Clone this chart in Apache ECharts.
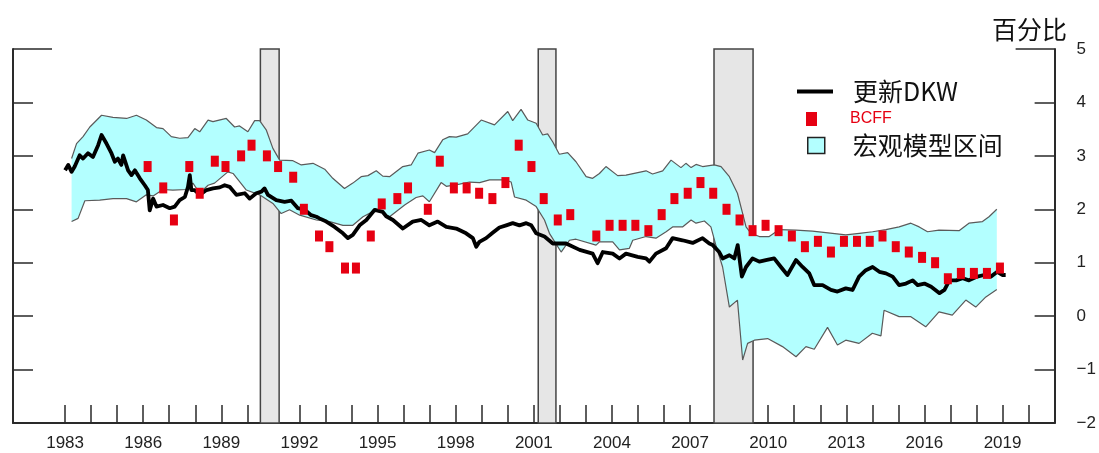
<!DOCTYPE html>
<html><head><meta charset="utf-8">
<script src="https://cdn.jsdelivr.net/npm/echarts@6/dist/echarts.min.js"></script>
<style>html,body{margin:0;padding:0;background:#fff}#c{width:1099px;height:453px}</style>
</head><body><div id="c"></div>
<script>
// ---------- data ----------
const xTickYears = [1983,1984,1985,1986,1987,1988,1989,1990,1991,1992,1993,1994,1995,1996,1997,1998,1999,2000,2001,2002,2003,2004,2005,2006,2007,2008,2009,2010,2011,2012,2013,2014,2015,2016,2017,2018,2019,2020];
const xLabelYears = [1983,1986,1989,1992,1995,1998,2001,2004,2007,2010,2013,2016,2019];
const yTickValues = [-2,-1,0,1,2,3,4,5];
const yTickLabels = ['\u22122','\u22121','0','1','2','3','4','5'];

const recessionStart = [1990.5, 2001.17, 2007.92];
const recessionEnd   = [1991.22, 2001.85, 2009.42];

const dkwYears = [1983.00,1983.12,1983.25,1983.37,1983.56,1983.69,1983.88,1984.07,1984.27,1984.40,1984.59,1984.78,1984.91,1985.03,1985.16,1985.23,1985.42,1985.55,1985.68,1985.87,1986.06,1986.18,1986.25,1986.38,1986.51,1986.76,1987.02,1987.21,1987.40,1987.60,1987.72,1987.79,1987.85,1987.98,1988.17,1988.43,1988.68,1988.94,1989.13,1989.32,1989.58,1989.90,1990.09,1990.34,1990.54,1990.66,1990.79,1991.11,1991.43,1991.69,1991.94,1992.20,1992.45,1992.65,1992.77,1993.03,1993.35,1993.67,1993.86,1994.05,1994.31,1994.57,1994.89,1995.20,1995.33,1995.59,1995.97,1996.35,1996.68,1996.99,1997.31,1997.64,1998.02,1998.40,1998.66,1998.79,1998.91,1999.17,1999.42,1999.68,1999.94,2000.19,2000.45,2000.71,2000.90,2001.09,2001.41,2001.73,2002.24,2002.76,2003.26,2003.45,2003.65,2004.03,2004.29,2004.54,2004.99,2005.31,2005.44,2005.69,2006.08,2006.33,2006.71,2007.10,2007.48,2007.74,2007.87,2008.12,2008.25,2008.51,2008.70,2008.83,2008.89,2008.99,2009.15,2009.40,2009.66,2009.91,2010.23,2010.49,2010.74,2011.07,2011.32,2011.58,2011.77,2012.09,2012.41,2012.66,2012.98,2013.24,2013.49,2013.75,2014.01,2014.27,2014.52,2014.78,2015.03,2015.29,2015.55,2015.74,2016.00,2016.26,2016.58,2016.77,2016.96,2017.22,2017.47,2017.71,2018.03,2018.29,2018.55,2018.80,2018.99,2019.12];
const dkwValues = [2.73,2.83,2.70,2.80,3.01,2.95,3.05,2.98,3.20,3.39,3.23,3.05,2.89,2.95,2.83,3.01,2.73,2.64,2.73,2.58,2.45,2.36,1.98,2.20,2.05,2.08,2.02,2.05,2.17,2.23,2.42,2.64,2.36,2.36,2.27,2.36,2.39,2.41,2.45,2.42,2.27,2.30,2.20,2.30,2.33,2.39,2.27,2.17,2.14,2.16,2.02,1.99,1.89,1.86,1.83,1.77,1.67,1.55,1.46,1.52,1.70,1.80,1.99,1.95,1.87,1.80,1.64,1.77,1.80,1.70,1.77,1.67,1.64,1.55,1.46,1.30,1.39,1.46,1.56,1.66,1.70,1.74,1.70,1.74,1.70,1.55,1.49,1.36,1.36,1.24,1.17,0.99,1.20,1.17,1.08,1.17,1.11,1.08,1.02,1.17,1.27,1.46,1.42,1.37,1.46,1.36,1.33,1.20,1.08,1.14,1.08,1.33,1.11,0.74,0.92,1.08,1.02,1.05,1.08,0.92,0.77,1.05,0.92,0.80,0.58,0.58,0.49,0.46,0.52,0.49,0.74,0.86,0.92,0.83,0.80,0.74,0.58,0.61,0.67,0.58,0.61,0.55,0.43,0.49,0.67,0.67,0.71,0.67,0.74,0.77,0.74,0.83,0.77,0.77];

const bcffYears = [1986.17,1986.77,1987.18,1987.77,1988.17,1988.75,1989.16,1989.76,1990.16,1990.75,1991.18,1991.76,1992.17,1992.75,1993.15,1993.75,1994.17,1994.74,1995.16,1995.76,1996.17,1996.93,1997.39,1997.93,1998.42,1998.90,1999.41,1999.91,2000.42,2000.91,2001.38,2001.92,2002.40,2003.40,2003.91,2004.41,2004.90,2005.40,2005.91,2006.40,2006.91,2007.40,2007.89,2008.40,2008.90,2009.40,2009.90,2010.40,2010.91,2011.41,2011.91,2012.41,2012.91,2013.41,2013.90,2014.39,2014.90,2015.40,2015.91,2016.41,2016.90,2017.40,2017.90,2018.40,2018.90];
const bcffValues = [2.8,2.4,1.8,2.8,2.3,2.9,2.8,3.0,3.2,3.0,2.8,2.6,2.0,1.5,1.3,0.9,0.9,1.5,2.1,2.2,2.4,2.0,2.9,2.4,2.4,2.3,2.2,2.5,3.2,2.8,2.2,1.8,1.9,1.5,1.7,1.7,1.7,1.6,1.9,2.2,2.3,2.5,2.3,2.0,1.8,1.6,1.7,1.6,1.5,1.3,1.4,1.2,1.4,1.4,1.4,1.5,1.3,1.2,1.1,1.0,0.7,0.8,0.8,0.8,0.9];

const bandUpperYears = [1983.25,1983.44,1983.69,1983.95,1984.40,1984.84,1985.36,1985.74,1986.12,1986.51,1986.76,1987.08,1987.40,1987.72,1987.98,1988.17,1988.49,1988.68,1989.19,1989.51,1989.70,1990.02,1990.28,1990.47,1990.73,1990.98,1991.24,1991.75,1992.07,1992.52,1992.97,1993.28,1993.73,1994.05,1994.37,1994.63,1994.95,1995.20,1995.46,1995.97,1996.29,1996.55,1996.99,1997.19,1997.50,1997.76,1998.02,1998.46,1998.98,1999.49,2000.00,2000.19,2000.51,2000.77,2001.09,2001.34,2001.53,2001.73,2001.98,2002.30,2002.62,2003.01,2003.26,2003.52,2003.77,2004.22,2004.54,2005.31,2005.56,2005.95,2006.27,2006.65,2006.84,2007.04,2007.23,2007.48,2007.93,2008.19,2008.51,2008.82,2009.15,2009.34,2009.66,2010.04,2010.43,2011.07,2011.70,2012.47,2012.98,2013.50,2014.01,2014.52,2015.03,2015.48,2015.80,2016.12,2016.56,2017.33,2017.71,2018.23,2018.48,2018.78];
const bandUpperValues = [2.95,3.23,3.36,3.54,3.76,3.72,3.70,3.76,3.67,3.53,3.51,3.36,3.33,3.34,3.51,3.45,3.67,3.64,3.70,3.54,3.56,3.45,3.66,3.66,3.48,3.14,2.92,2.91,2.83,2.86,2.75,2.58,2.39,2.49,2.61,2.63,2.72,2.62,2.61,2.80,2.83,3.05,3.11,3.06,3.30,3.36,3.35,3.41,3.67,3.58,3.83,3.66,3.87,3.67,3.61,3.39,3.41,3.26,3.03,3.06,2.89,2.61,2.58,2.67,2.80,2.63,2.64,2.72,2.66,2.72,2.92,2.78,2.86,2.78,2.84,2.80,2.83,2.80,2.61,2.30,1.67,1.55,1.49,1.49,1.62,1.61,1.59,1.55,1.52,1.55,1.58,1.62,1.67,1.74,1.67,1.58,1.61,1.60,1.74,1.77,1.86,2.00];

const bandLowerYears = [1983.25,1983.50,1983.76,1984.33,1984.84,1985.36,1985.74,1986.12,1986.38,1986.76,1987.14,1987.66,1987.91,1988.17,1988.49,1988.74,1989.25,1989.45,1989.96,1990.47,1990.98,1991.30,1991.62,1992.01,1992.65,1993.16,1993.67,1994.05,1994.44,1994.95,1995.46,1996.04,1996.48,1996.74,1996.99,1997.44,1997.64,1998.15,1998.53,1998.92,1999.30,1999.88,2000.13,2000.26,2000.71,2001.09,2001.41,2001.60,2002.05,2002.37,2002.62,2003.39,2003.52,2004.03,2004.29,2004.67,2004.80,2005.31,2005.69,2006.08,2006.33,2006.71,2007.04,2007.23,2007.55,2007.80,2007.99,2008.25,2008.51,2008.82,2009.02,2009.21,2009.47,2009.98,2010.55,2011.07,2011.45,2011.77,2012.28,2012.66,2012.98,2013.49,2014.00,2014.33,2014.45,2015.03,2015.48,2016.05,2016.56,2017.07,2017.59,2017.97,2018.36,2018.78];
const bandLowerValues = [1.77,1.83,2.16,2.17,2.20,2.20,2.14,2.27,2.25,2.37,2.36,2.37,2.49,2.30,2.45,2.49,2.70,2.67,2.36,2.27,2.11,1.92,1.99,1.89,1.80,1.77,1.70,1.70,1.86,1.99,1.86,2.08,2.22,2.25,2.14,2.50,2.43,2.47,2.51,2.50,2.55,2.55,2.51,2.23,2.17,2.05,1.80,1.55,1.20,1.42,1.44,1.33,1.39,1.39,1.24,1.27,1.42,1.49,1.46,1.58,1.67,1.67,1.80,1.74,1.78,1.67,1.33,0.92,0.17,0.30,-0.82,-0.51,-0.45,-0.42,-0.57,-0.76,-0.57,-0.62,-0.21,-0.54,-0.45,-0.51,-0.32,-0.37,0.11,-0.01,-0.01,-0.20,0.08,0.02,0.30,0.17,0.36,0.50];

// ---------- styles ----------
const X_MIN = 1981, X_MAX = 2021, Y_MIN = -2, Y_MAX = 5;
const CYAN = '#b3ffff', RED = '#e60012', AXIS = '#2a2a2a';
const NUM_FONT = '"Liberation Sans", Arial, sans-serif';
const CJK_FONT = '"Noto Sans CJK SC", sans-serif';

const pairs = (xs, ys) => xs.map((x, i) => [x, ys[i]]);
const recessionData = recessionStart.map((s, i) => [s, recessionEnd[i]]);

const chart = echarts.init(document.getElementById('c'), null, {renderer: 'canvas'});

const yBase = {
  type: 'value', min: Y_MIN, max: Y_MAX, interval: 1, splitLine: {show: false}
};

chart.setOption({
  animation: false,
  backgroundColor: '#fff',
  title: {
    text: '百分比', left: 987, top: 12,
    textStyle: {fontFamily: CJK_FONT, fontSize: 25, fontWeight: 'normal', color: '#111'}
  },
  grid: {left: 13, right: 42, top: 49, bottom: 30, containLabel: false},
  legend: [
    {data: [{name: '更新DKW', icon: 'rect', itemStyle: {color: '#000'}}],
     left: 797, top: 79, padding: 0,
     itemWidth: 36, itemHeight: 4,
     textStyle: {fontFamily: CJK_FONT, fontSize: 25, color: '#111', padding: [0, 0, 0, 15]}},
    {data: [{name: 'BCFF', icon: 'rect'}], left: 806, top: 111, padding: 0,
     itemWidth: 11, itemHeight: 14,
     textStyle: {fontFamily: NUM_FONT, fontSize: 16, color: RED, padding: [0, 0, 0, 28]}},
    {data: [{name: '宏观模型区间', icon: 'rect',
             itemStyle: {color: CYAN, borderColor: '#222', borderWidth: 1.5}}],
     left: 807, top: 133, padding: 0, itemWidth: 17, itemHeight: 16,
     textStyle: {fontFamily: CJK_FONT, fontSize: 25, color: '#111', padding: [0, 0, 0, 23]}}
  ],
  xAxis: {
    type: 'value', min: X_MIN, max: X_MAX, splitLine: {show: false},
    axisLine: {show: true, onZero: false, lineStyle: {color: AXIS, width: 2}},
    axisTick: {show: true, inside: true, length: 18, customValues: xTickYears,
               lineStyle: {color: AXIS, width: 1.5}},
    axisLabel: {show: true, customValues: xLabelYears, margin: 12, fontSize: 17,
                color: '#222', fontFamily: NUM_FONT, formatter: v => String(v)}
  },
  yAxis: [
    Object.assign({}, yBase, {
      position: 'right',
      axisLine: {show: true, onZero: false, lineStyle: {color: AXIS, width: 2}},
      axisTick: {show: true, inside: true, length: 20, lineStyle: {color: AXIS, width: 1.5}},
      axisLabel: {show: true, margin: 22, fontSize: 17, color: '#222', fontFamily: NUM_FONT,
                  align: 'left',
                  formatter: v => yTickLabels[yTickValues.indexOf(v)]}
    }),
    Object.assign({}, yBase, {
      position: 'left',
      axisLine: {show: true, onZero: false, lineStyle: {color: AXIS, width: 2}},
      axisTick: {show: true, inside: true, length: 20, lineStyle: {color: AXIS, width: 1.5}},
      axisLabel: {show: false}
    }),
    Object.assign({}, yBase, {
      position: 'left', axisLine: {show: false, onZero: false},
      axisTick: {show: true, inside: true, length: 39, customValues: [Y_MAX],
                 lineStyle: {color: AXIS, width: 1.5}},
      axisLabel: {show: false}
    }),
    Object.assign({}, yBase, {
      position: 'right', axisLine: {show: false, onZero: false},
      axisTick: {show: true, inside: true, length: 39, customValues: [Y_MAX],
                 lineStyle: {color: AXIS, width: 1.5}},
      axisLabel: {show: false}
    })
  ],
  series: [
    {
      name: 'recessions', type: 'custom', z: 1, silent: true,
      data: recessionData, encode: {x: [0, 1]},
      renderItem: function (params, api) {
        const p1 = api.coord([api.value(0), Y_MAX]);
        const p2 = api.coord([api.value(1), Y_MIN]);
        return {type: 'rect', shape: {x: p1[0], y: p1[1], width: p2[0] - p1[0], height: p2[1] - p1[1]},
                style: {fill: '#e6e6e6', stroke: '#444', lineWidth: 1.5}};
      }
    },
    {
      name: '宏观模型区间', type: 'custom', z: 2, silent: true,
      itemStyle: {color: CYAN},
      data: [[bandUpperYears[0], bandUpperValues[0]]], encode: {x: 0, y: 1},
      renderItem: function (params, api) {
        const pts = [];
        for (let i = 0; i < bandUpperYears.length; i++) pts.push(api.coord([bandUpperYears[i], bandUpperValues[i]]));
        for (let i = bandLowerYears.length - 1; i >= 0; i--) pts.push(api.coord([bandLowerYears[i], bandLowerValues[i]]));
        return {type: 'polygon', shape: {points: pts}, style: {fill: CYAN}};
      }
    },
    {
      name: 'upper', type: 'line', z: 3, symbol: 'none', silent: true,
      data: pairs(bandUpperYears, bandUpperValues),
      lineStyle: {color: '#5a5a5a', width: 1.2}
    },
    {
      name: 'lower', type: 'line', z: 3, symbol: 'none', silent: true,
      data: pairs(bandLowerYears, bandLowerValues),
      lineStyle: {color: '#5a5a5a', width: 1.2}
    },
    {
      name: '更新DKW', type: 'line', z: 4, symbol: 'none', silent: true,
      data: pairs(dkwYears, dkwValues),
      itemStyle: {color: '#000'},
      lineStyle: {color: '#000', width: 3.8, join: 'round'}
    },
    {
      name: 'BCFF', type: 'scatter', z: 5, silent: true,
      symbol: 'rect', symbolSize: [8, 11],
      data: pairs(bcffYears, bcffValues),
      itemStyle: {color: RED, opacity: 1}
    }
  ]
});
</script>
</body></html>
